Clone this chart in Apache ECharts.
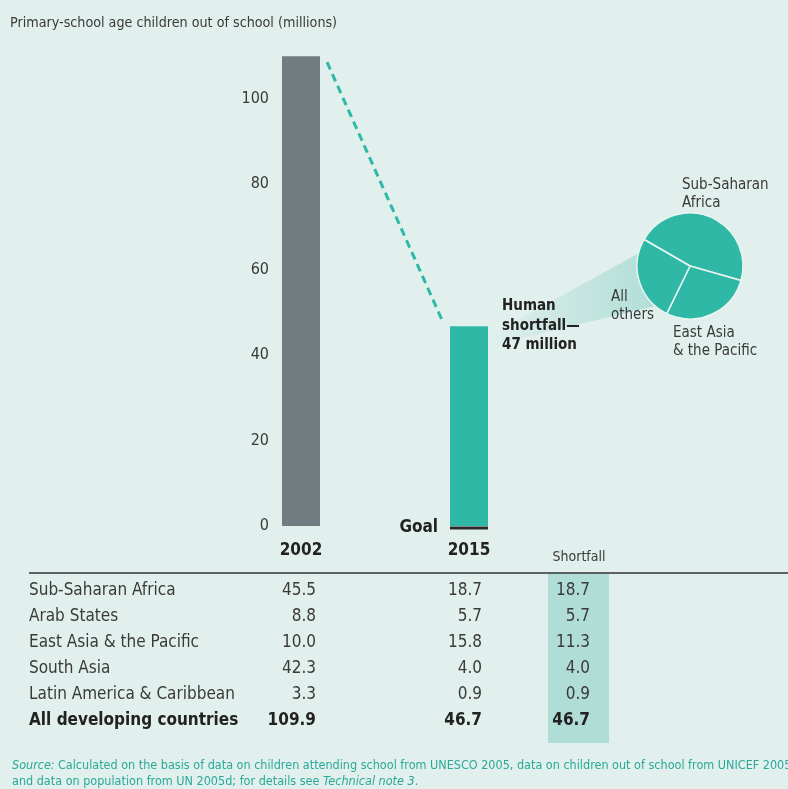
<!DOCTYPE html>
<html>
<head>
<meta charset="utf-8">
<script src="https://cdn.jsdelivr.net/npm/echarts@6/dist/echarts.min.js"></script>
<style>
  html, body { margin: 0; padding: 0; background: #e1f0ed; }
  #chart { width: 788px; height: 789px; }
</style>
</head>
<body>
<div id="chart"></div>
<script>
// Out-of-school children, millions
const years = ['2002', '2015'];
const totals = [109.9, 46.7];
const goalValue = 0;

// Trend line between the two bars (x in category index units, y in millions)
const trendPoints = [[0.155, 108.5], [0.845, 47.7]];

// Regional breakdown
const regions = ['Sub-Saharan Africa', 'Arab States', 'East Asia & the Pacific', 'South Asia', 'Latin America & Caribbean'];
const values2002 = ['45.5', '8.8', '10.0', '42.3', '3.3'];
const values2015 = ['18.7', '5.7', '15.8', '4.0', '0.9'];
const shortfall = ['18.7', '5.7', '11.3', '4.0', '0.9'];
const totalLabel = 'All developing countries';
const totalRow = ['109.9', '46.7', '46.7'];

// Composition of the shortfall
const pieNames = ['Sub-Saharan\nAfrica', 'East Asia\n& the Pacific', 'All\nothers'];
const pieValues = [18.7, 11.3, 10.6];

const FONT = "'Liberation Sans Narrow', 'Arial Narrow', 'DejaVu Sans Condensed', sans-serif";
const TEAL = '#30b8a6';
const GREY = '#727c80';
const INK = '#3a3a3a';

const chart = echarts.init(document.getElementById('chart'));

const PIE_CENTER = [690, 266];
const PIE_R = 53;

// anchors for the pie slice captions
const pieLabelPos = [[682, 194], [673, 342], [611, 306]];

function tableGraphics() {
  const g = [];
  const rowY0 = 591;
  const rowStep = 26;
  const rows = regions.length + 1;
  // shortfall column band
  g.push({ type: 'rect', z: 0, shape: { x: 548, y: 573, width: 61, height: 170 }, style: { fill: '#b0ddd6' } });
  // rule under the header
  g.push({ type: 'line', z: 2, shape: { x1: 29, y1: 573, x2: 788, y2: 573 }, style: { stroke: '#333', lineWidth: 1.5 } });
  g.push({ type: 'text', z: 3, x: 579, y: 557, style: { text: 'Shortfall', font: '14px ' + FONT, fill: INK, align: 'center', verticalAlign: 'middle' } });
  for (let i = 0; i < rows; i++) {
    const bold = i === regions.length;
    const y = rowY0 + i * rowStep;
    const font = (bold ? 'bold ' : '') + '17px ' + FONT;
    const fill = bold ? '#222' : INK;
    const cells = bold ? [totalLabel].concat(totalRow) : [regions[i], values2002[i], values2015[i], shortfall[i]];
    const xs = [29, 316, 482, 590];
    const al = ['left', 'right', 'right', 'right'];
    cells.forEach((t, j) => {
      g.push({ type: 'text', z: 3, x: xs[j], y: y, style: { text: t, font: font, fill: fill, align: al[j], verticalAlign: 'middle' } });
    });
  }
  return g;
}

function pieCaptions() {
  return pieNames.map((n, i) => ({
    type: 'text', z: 6, x: pieLabelPos[i][0], y: pieLabelPos[i][1],
    style: { text: n, font: '15px ' + FONT, fill: INK, lineHeight: 18, align: 'left', verticalAlign: 'middle' }
  }));
}

const srcRich = {
  i: { fontStyle: 'italic', fontSize: 12.5, fill: '#2aa898', fontFamily: FONT },
  n: { fontSize: 12.5, fill: '#2aa898', fontFamily: FONT }
};

const option = {
  backgroundColor: '#e1f0ed',
  animation: false,
  textStyle: { fontFamily: FONT },
  title: {
    text: 'Primary-school age children out of school (millions)',
    left: 5, top: 11,
    textStyle: { fontSize: 14.2, fontWeight: 'normal', color: INK, fontFamily: FONT }
  },
  grid: { left: 217, width: 336, top: 13, height: 513 },
  xAxis: [{
    type: 'category',
    data: years,
    axisLine: { show: false },
    axisTick: { show: false },
    axisLabel: { margin: 16, fontSize: 17, fontWeight: 'bold', color: '#222', fontFamily: FONT }
  }, {
    type: 'value', min: -0.5, max: 1.5, show: false
  }],
  yAxis: {
    type: 'value', min: 0, max: 120, interval: 20,
    offset: -56,
    splitLine: { show: false },
    axisLine: { show: false },
    axisTick: { show: false },
    axisLabel: { margin: 4, fontSize: 16, color: INK, fontFamily: FONT, showMaxLabel: false }
  },
  series: [{
    type: 'bar',
    barWidth: 38,
    data: totals.map((v, i) => ({ value: v, itemStyle: { color: i === 0 ? GREY : TEAL } })),
    z: 3
  }, {
    type: 'line',
    xAxisIndex: 1,
    data: trendPoints,
    symbol: 'none',
    lineStyle: { color: TEAL, width: 3, type: [8, 5] },
    z: 2
  }, {
    type: 'scatter',
    data: [[1, goalValue]],
    symbol: 'rect',
    symbolSize: [38, 3],
    symbolOffset: [0, 2],
    itemStyle: { color: '#2a2a2a', opacity: 1 },
    label: {
      show: true, position: 'left', distance: 12, formatter: 'Goal',
      fontSize: 17, fontWeight: 'bold', color: '#222', fontFamily: FONT
    },
    z: 4
  }, {
    type: 'pie',
    center: PIE_CENTER,
    radius: PIE_R,
    startAngle: 150,
    clockwise: true,
    data: pieNames.map((n, i) => ({ name: n, value: pieValues[i] })),
    itemStyle: { color: TEAL, borderColor: '#e8f5f2', borderWidth: 1.5 },
    label: { show: false },
    labelLine: { show: false },
    emphasis: { disabled: true },
    z: 5
  }],
  graphic: tableGraphics().concat(pieCaptions()).concat([{
    type: 'text', z: 5, x: 502, y: 326,
    style: { text: 'Human\nshortfall—\n47 million', font: 'bold 15px ' + FONT, fill: '#222', lineHeight: 19.5, align: 'left', verticalAlign: 'middle' }
  }, {
    type: 'text', z: 5, x: 12, y: 766,
    style: { rich: srcRich,
      text: '{i|Source:} {n|Calculated on the basis of data on children attending school from UNESCO 2005, data on children out of school from UNICEF 2005d}', verticalAlign: 'middle' }
  }, {
    type: 'text', z: 5, x: 12, y: 782,
    style: { rich: srcRich,
      text: '{n|and data on population from UN 2005d; for details see }{i|Technical note 3}{n|.}', verticalAlign: 'middle' }
  }])
};

chart.setOption(option);

// Light wedge from the 2015 bar to the pie
const top2015 = chart.convertToPixel({ xAxisIndex: 0, yAxisIndex: 0 }, [1, totals[1]]);
const barRight = top2015[0] + 19;
const a1 = 166 * Math.PI / 180, a2 = -131 * Math.PI / 180;
const p1 = [PIE_CENTER[0] + PIE_R * Math.cos(a1), PIE_CENTER[1] - PIE_R * Math.sin(a1)];
const p2 = [PIE_CENTER[0] + PIE_R * Math.cos(a2), PIE_CENTER[1] - PIE_R * Math.sin(a2)];
chart.setOption({
  graphic: [{
    id: 'wedge', type: 'polygon', z: 1,
    shape: { points: [[barRight, top2015[1] + 10], p1, p2, [barRight, top2015[1] + 20]] },
    style: {
      fill: new echarts.graphic.LinearGradient(0, 0, 1, 0, [
        { offset: 0, color: 'rgba(176,221,214,0)' },
        { offset: 0.6, color: 'rgba(176,221,214,0.6)' },
        { offset: 1, color: 'rgba(176,221,214,0.95)' }
      ])
    }
  }]
});
</script>
</body>
</html>
